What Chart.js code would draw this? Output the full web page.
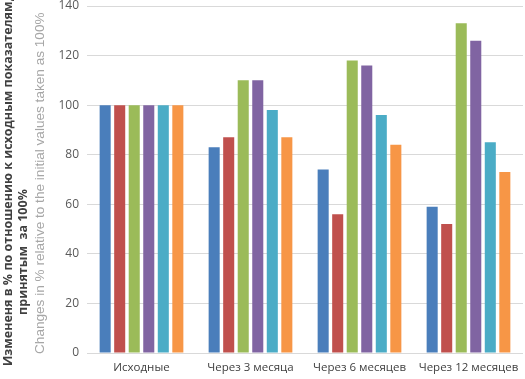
<!DOCTYPE html>
<html>
<head>
<meta charset="utf-8">
<script src="https://cdn.jsdelivr.net/npm/chart.js@4/dist/chart.umd.min.js"></script>
<style>
  html, body { margin: 0; padding: 0; background: #fff; }
  #wrap { width: 525px; height: 379px; }
</style>
</head>
<body>
<div id="wrap"><canvas id="chart" width="525" height="379"></canvas></div>
<script>
// categories and series
const categories = ['Исходные', 'Через 3 месяца', 'Через 6 месяцев', 'Через 12 месяцев'];
const series1 = [100, 83, 74, 59];
const series2 = [100, 87, 56, 52];
const series3 = [100, 110, 118, 133];
const series4 = [100, 110, 116, 126];
const series5 = [100, 98, 96, 85];
const series6 = [100, 87, 84, 73];
const yTicks = [0, 20, 40, 60, 80, 100, 120, 140];

const colors = ['#4a7ebb', '#c0504d', '#9bbb59', '#8064a2', '#4bacc6', '#f79646'];
const allSeries = [series1, series2, series3, series4, series5, series6];

// axis titles drawn rotated on the left
const titlePlugin = {
  id: 'leftTitles',
  afterDraw(chart) {
    const ctx = chart.ctx;
    ctx.save();
    ctx.textBaseline = 'middle';

    ctx.save();
    ctx.translate(8, 366);
    ctx.rotate(-Math.PI / 2);
    ctx.fillStyle = '#404040';
    ctx.font = 'bold 12.5px "Open Sans", sans-serif';
    ctx.textAlign = 'left';
    ctx.fillText('Измененя в % по отношению к исходным показателям,', 0, 0);
    ctx.restore();

    ctx.save();
    ctx.translate(23, 252);
    ctx.rotate(-Math.PI / 2);
    ctx.fillStyle = '#404040';
    ctx.font = 'bold 12.5px "Open Sans", sans-serif';
    ctx.textAlign = 'center';
    ctx.fillText('принятым  за 100%', 0, 0);
    ctx.restore();

    ctx.save();
    ctx.translate(40, 354);
    ctx.rotate(-Math.PI / 2);
    ctx.fillStyle = '#a6a6a6';
    ctx.font = '13.6px "Liberation Sans", Arial, sans-serif';
    ctx.textAlign = 'left';
    ctx.fillText('Changes in % relative to the initial values taken as 100%', 0, 0);
    ctx.restore();

    ctx.restore();
  }
};

new Chart(document.getElementById('chart').getContext('2d'), {
  type: 'bar',
  data: {
    labels: categories,
    datasets: allSeries.map((d, i) => ({
      label: 'Series ' + (i + 1),
      data: d,
      backgroundColor: colors[i],
      borderWidth: 0
    }))
  },
  options: {
    responsive: false,
    animation: false,
    devicePixelRatio: 1,
    layout: { padding: { left: 50, right: 2, top: 6, bottom: 0 } },
    datasets: { bar: { categoryPercentage: 0.8, barPercentage: 0.76 } },
    plugins: {
      legend: { display: false },
      tooltip: { enabled: false }
    },
    scales: {
      x: {
        grid: { display: false },
        border: { display: false },
        ticks: {
          color: '#404040',
          font: { family: '"Open Sans", sans-serif', size: 11.5 },
          padding: 0,
          maxRotation: 0,
          autoSkip: false
        },
        afterFit(scale) {
          scale.height = 26;
          scale.paddingLeft = 0;
          scale.paddingRight = 0;
        }
      },
      y: {
        min: 0,
        max: 140,
        afterBuildTicks(scale) { scale.ticks = yTicks.map(v => ({ value: v })); },
        grid: { color: '#d9d9d9', drawTicks: false, lineWidth: 1 },
        border: { display: false },
        ticks: {
          color: '#595959',
          font: { family: '"Open Sans", sans-serif', size: 12 },
          padding: 8
        },
        afterFit(scale) {
          scale.width = 37;
          scale.paddingTop = 0;
          scale.paddingBottom = 0;
        }
      }
    }
  },
  plugins: [titlePlugin]
});
</script>
</body>
</html>
